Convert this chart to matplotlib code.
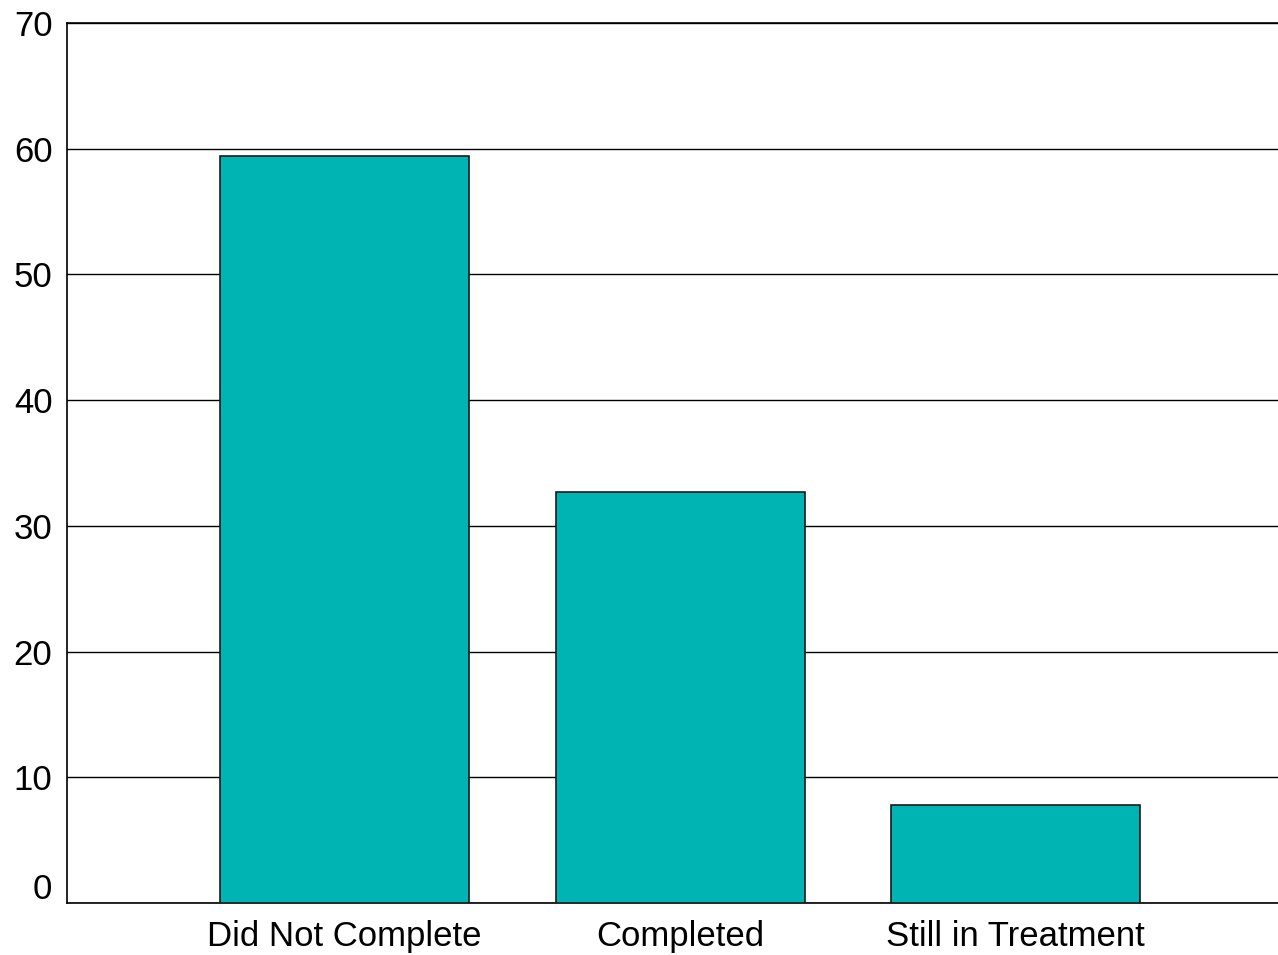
import matplotlib
matplotlib.use("Agg")
import matplotlib.pyplot as plt
from matplotlib.transforms import ScaledTranslation

categories = ["Did Not Complete", "Completed", "Still in Treatment"]
values = [59.4, 32.7, 7.8]
yticks = [0, 10, 20, 30, 40, 50, 60, 70]

plt.rcParams['font.family'] = ['Liberation Sans', 'DejaVu Sans']

fig = plt.figure(figsize=(12.78, 9.55), dpi=100)
ax = fig.add_axes([67/1278, 1 - 903/955, 1 - 67/1278, (903 - 23)/955])

x = list(range(len(categories)))
ax.bar(x, values, width=0.742, color="#00B4B4", edgecolor="#1a1a1a", linewidth=1.2, zorder=3)

ax.set_ylim(0, 70)
ax.set_xlim(-0.827, 2.782)
ax.set_yticks(yticks)
ax.set_xticks(x)
ax.set_xticklabels(categories)
ax.yaxis.grid(True, color="black", linewidth=1, zorder=0)
ax.set_axisbelow(True)
ax.tick_params(axis="both", length=0, labelsize=25)
ax.tick_params(axis="y", pad=10.5)
ax.tick_params(axis="x", pad=12)
ax.spines["right"].set_visible(False)
for s in ["left", "bottom", "top"]:
    ax.spines[s].set_linewidth(1.2)

# the "0" label sits a bit above the baseline in the original
t0 = ax.yaxis.get_major_ticks()[0]
t0.label1.set_transform(t0.label1.get_transform() + ScaledTranslation(0, 0.17, fig.dpi_scale_trans))

fig.savefig("out.png", dpi=100)
